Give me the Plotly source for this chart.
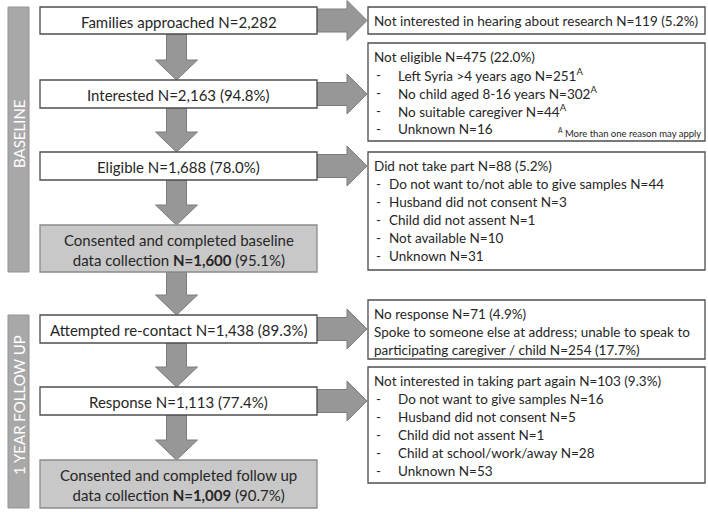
import plotly.graph_objects as go

# ---------------- data (texts) ----------------
main_labels = [
    "Families approached N=2,282",
    "Interested N=2,163 (94.8%)",
    "Eligible N=1,688 (78.0%)",
    "Consented and completed baseline<br>data collection <b>N=1,600</b> (95.1%)",
    "Attempted re-contact N=1,438 (89.3%)",
    "Response N=1,113 (77.4%)",
    "Consented and completed follow up<br>data collection <b>N=1,009</b> (90.7%)",
]
main_is_final = [False, False, False, True, False, False, True]
exit_from = [0, 1, 2, 4, 5]   # main boxes having a side exit arrow

side_headers = [
    "Not interested in hearing about research N=119 (5.2%)",
    "Not eligible N=475 (22.0%)",
    "Did not take part N=88 (5.2%)",
    "No response N=71 (4.9%)",
    "Not interested in taking part again N=103 (9.3%)",
]
side_items = [
    [],
    ["Left Syria >4 years ago N=251<sup>A</sup>",
     "No child aged 8-16 years N=302<sup>A</sup>",
     "No suitable caregiver N=44<sup>A</sup>",
     "Unknown N=16"],
    ["Do not want to/not able to give samples N=44",
     "Husband did not consent N=3",
     "Child did not assent N=1",
     "Not available N=10",
     "Unknown N=31"],
    [],
    ["Do not want to give samples N=16",
     "Husband did not consent N=5",
     "Child did not assent N=1",
     "Child at school/work/away N=28",
     "Unknown N=53"],
]
side_plain_lines = [
    [], [], [],
    ["Spoke to someone else at address; unable to speak to",
     "participating caregiver / child N=254 (17.7%)"],
    [],
]
side_note = "<sup>A</sup> More than one reason may apply"
phase_labels = ["BASELINE", "1 YEAR FOLLOW UP"]

# ---------------- layout geometry (pixels) ----------------
W, H = 708, 512
MX0, MX1 = 40, 317
main_y = [(7, 34), (80, 108), (152, 180), (225, 272), (315, 343), (387, 415), (460, 508)]
SX0, SX1 = 368, 705
side_y = [(7, 34), (43, 141), (152, 270), (300, 359), (367, 483)]
side_indent = [0, 22, 13, 0, 22]
phase_y = [(7, 272), (315, 508)]
PX0, PX1 = 8, 29
LINE = 18

TXT = "#262626"
FONT = "Lato"
ARROW_FILL = "#979797"
ARROW_LINE = "#7c7c7c"

shapes = []
annotations = []

# phase bars
for (y0, y1), lab in zip(phase_y, phase_labels):
    shapes.append(dict(type="rect", x0=PX0, x1=PX1, y0=y0, y1=y1, xref="x", yref="y",
                       fillcolor="#a8a8a8", line=dict(color="#939393", width=1), layer="below"))
    annotations.append(dict(x=(PX0 + PX1) / 2, y=(y0 + y1) / 2 - 6, text=lab, textangle=-90,
                            showarrow=False, xref="x", yref="y",
                            font=dict(family=FONT, size=15, color="white")))

# down arrows between main boxes
cx = (MX0 + MX1) / 2 - 2
for i in range(len(main_y) - 1):
    top = main_y[i][1]
    bot = main_y[i + 1][0]
    hs = bot - 20
    p = (f"M {cx-10},{top} L {cx+10},{top} L {cx+10},{hs} L {cx+21},{hs} "
         f"L {cx},{bot} L {cx-21},{hs} L {cx-10},{hs} Z")
    shapes.append(dict(type="path", path=p, xref="x", yref="y",
                       fillcolor=ARROW_FILL, line=dict(color=ARROW_LINE, width=1)))

# right arrows
for k, i in enumerate(exit_from):
    cy = (main_y[i][0] + main_y[i][1]) / 2
    x0, xh, xt = MX1, MX1 + 30, SX0 - 1
    p = (f"M {x0},{cy-11.5} L {xh},{cy-11.5} L {xh},{cy-20} L {xt},{cy} "
         f"L {xh},{cy+20} L {xh},{cy+11.5} L {x0},{cy+11.5} Z")
    shapes.append(dict(type="path", path=p, xref="x", yref="y",
                       fillcolor=ARROW_FILL, line=dict(color=ARROW_LINE, width=1)))

# main boxes
for (y0, y1), lab, fin in zip(main_y, main_labels, main_is_final):
    shapes.append(dict(type="rect", x0=MX0, x1=MX1, y0=y0, y1=y1, xref="x", yref="y",
                       fillcolor="#c8c8c8" if fin else "white",
                       line=dict(color="#8a8a8a" if fin else "#4d4d4d", width=1.3)))
    annotations.append(dict(x=(MX0 + MX1) / 2, y=(y0 + y1) / 2 + 1, text=lab, showarrow=False,
                            xref="x", yref="y", align="center",
                            font=dict(family=FONT, size=15, color=TXT)))

# side boxes
SF = 13.5
for j, (y0, y1) in enumerate(side_y):
    shapes.append(dict(type="rect", x0=SX0, x1=SX1, y0=y0, y1=y1, xref="x", yref="y",
                       fillcolor="white", line=dict(color="#4d4d4d", width=1.3)))
    ly = y0 + 14
    annotations.append(dict(x=SX0 + 4, y=ly, text=side_headers[j], showarrow=False,
                            xref="x", yref="y", xanchor="left", yanchor="middle",
                            font=dict(family=FONT, size=SF, color=TXT)))
    for t in side_plain_lines[j]:
        ly += LINE
        annotations.append(dict(x=SX0 + 4, y=ly, text=t, showarrow=False,
                                xref="x", yref="y", xanchor="left", yanchor="middle",
                                font=dict(family=FONT, size=SF, color=TXT)))
    for t in side_items[j]:
        ly += LINE
        annotations.append(dict(x=SX0 + 6, y=ly, text="-", showarrow=False,
                                xref="x", yref="y", xanchor="left", yanchor="middle",
                                font=dict(family=FONT, size=SF, color=TXT)))
        annotations.append(dict(x=SX0 + 6 + side_indent[j], y=ly, text=t, showarrow=False,
                                xref="x", yref="y", xanchor="left", yanchor="middle",
                                font=dict(family=FONT, size=SF, color=TXT)))
    if j == 1:
        annotations.append(dict(x=SX1 - 2, y=y1 - 9, text=side_note, showarrow=False,
                                xref="x", yref="y", xanchor="right", yanchor="middle",
                                font=dict(family=FONT, size=9.5, color=TXT)))

fig = go.Figure()
fig.update_layout(
    width=W, height=H, margin=dict(l=0, r=0, t=0, b=0),
    paper_bgcolor="white", plot_bgcolor="white",
    xaxis=dict(range=[0, W], visible=False, fixedrange=True),
    yaxis=dict(range=[H, 0], visible=False, fixedrange=True),
    shapes=shapes, annotations=annotations, showlegend=False,
)
fig.write_html("out.html", config={"displayModeBar": False},
               post_script="document.body.style.margin='0';document.body.style.overflow='hidden';")
